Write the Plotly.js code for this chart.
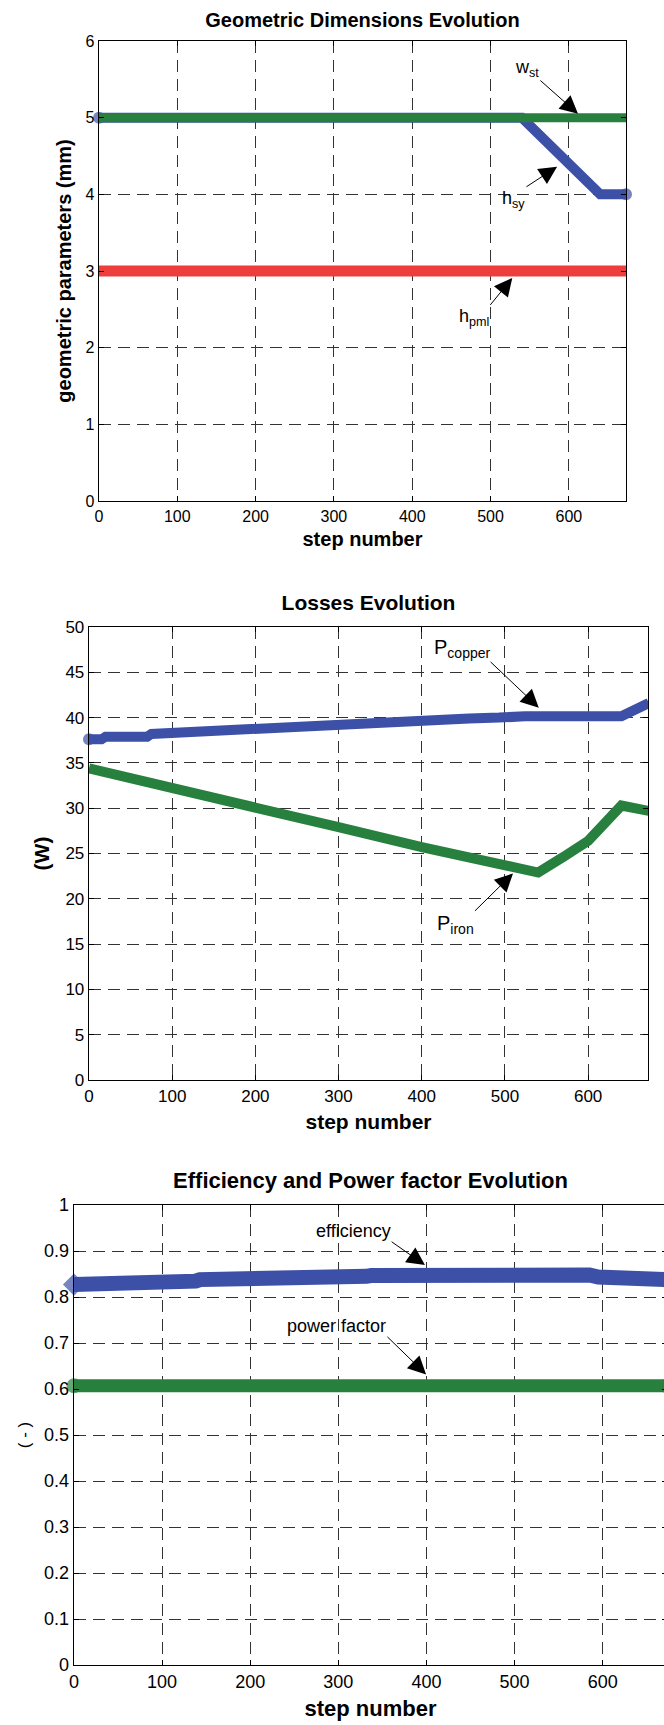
<!DOCTYPE html>
<html>
<head>
<meta charset="utf-8">
<script src="https://cdn.plot.ly/plotly-3.0.1.min.js"></script>
<style>
  html, body { margin: 0; padding: 0; background: #fff; width: 664px; height: 1725px; overflow: hidden; position: relative; }
  .chart { position: absolute; left: 0; }
</style>
</head>
<body>
<div id="c1" class="chart" style="top:0px;"></div>
<div id="c2" class="chart" style="top:560px;"></div>
<div id="c3" class="chart" style="top:1160px;"></div>
<script>
// ---------- Data ----------
// Chart 1: Geometric Dimensions Evolution (mm)
const wstSteps  = [0, 673];
const wstVals   = [5, 5];
const hsySteps  = [0, 540, 640, 673];
const hsyVals   = [5, 5, 4, 4];
const hpmlSteps = [0, 673];
const hpmlVals  = [3, 3];

// Chart 2: Losses Evolution (W)
const copperSteps = [0, 15, 20, 70, 75, 115, 155, 195, 235, 275, 315, 350, 386, 421, 457, 493, 524, 640, 673];
const copperVals  = [37.6, 37.6, 37.9, 37.9, 38.2, 38.4, 38.65, 38.85, 39.0, 39.2, 39.35, 39.5, 39.6, 39.75, 39.9, 40.0, 40.15, 40.15, 41.6];
const ironSteps   = [0, 100, 200, 300, 400, 500, 540, 570, 600, 640, 673];
const ironVals    = [34.4, 32.3, 30.1, 27.9, 25.7, 23.7, 22.9, 24.6, 26.4, 30.3, 29.7];

// Chart 3: Efficiency and Power factor Evolution (-)
const effSteps = [0, 12, 15, 75, 80, 138, 143, 200, 205, 266, 271, 332, 337, 396, 401, 467, 472, 560, 572, 585, 595, 620, 630, 673];
const effVals  = [0.827, 0.827, 0.832, 0.832, 0.8345, 0.8345, 0.8378, 0.8378, 0.8417, 0.8417, 0.845, 0.845, 0.8465, 0.8465, 0.849, 0.849, 0.8535, 0.8535, 0.848, 0.848, 0.8435, 0.8435, 0.838, 0.838];
const pfSteps  = [0, 673];
const pfVals   = [0.607, 0.607];

// ---------- Styles ----------
const FONT = 'Liberation Sans, Arial, Helvetica, sans-serif';
const BLUE = '#3C50A8', GREEN = '#28803E', RED = '#EE3D3D';

function axis(range, dtick, tickSize, titleText, titleSize, titleBold, standoff) {
  return {
    range: range, dtick: dtick, tick0: 0,
    showgrid: true, gridcolor: '#333', griddash: '12px,7px', gridwidth: 1,
    zeroline: false,
    showline: true, linecolor: '#000', linewidth: 1.3, mirror: 'ticks',
    ticks: 'inside', ticklen: 5, tickcolor: '#000',
    tickfont: {family: FONT, size: tickSize, color: '#000'},
    title: {text: titleText, standoff: standoff,
            font: {family: FONT, size: titleSize, color: '#000', weight: titleBold ? 'bold' : 'normal'}},
    automargin: false, fixedrange: true
  };
}
// thick band through the data points; a marker sits on the two end points only (it may spill past the axes)
function band(x, y, color, w, endSymbol) {
  const sizes = x.map((_, i) => (i === 0 || i === x.length - 1) ? w + 2 : 0);
  return {x: x, y: y, type: 'scatter', mode: endSymbol ? 'lines+markers' : 'lines',
          line: {color: color, width: w},
          marker: {symbol: endSymbol || 'circle', size: sizes, color: color, line: {width: 0}},
          cliponaxis: false, hoverinfo: 'skip', showlegend: false};
}
// label with an arrow: (x, y) is the arrow head in data units; (ax, ay) the pixel offset of the arrow tail,
// and the text box is anchored at the tail.
function pointer(x, y, ax, ay, text, size, xa, ya) {
  return {x: x, y: y, xref: 'x', yref: 'y', ax: ax, ay: ay, text: text, showarrow: true,
          arrowhead: 2, arrowsize: 3.6, arrowwidth: 1, arrowcolor: '#000', standoff: 0, startstandoff: 0,
          xanchor: xa, yanchor: ya, borderpad: 0,
          font: {family: FONT, size: size, color: '#000'}};
}
function title(text, size, yFrac) {
  return {text: text, font: {family: FONT, size: size, color: '#000', weight: 'bold'},
          xref: 'paper', x: 0.5, xanchor: 'center', yref: 'container', y: yFrac, yanchor: 'middle'};
}
const cfg = {staticPlot: true, displayModeBar: false};

// ---------- Chart 1 ----------
Plotly.newPlot('c1', [
  band(hpmlSteps, hpmlVals, RED, 11, null),
  band(hsySteps, hsyVals, BLUE, 10, 'circle'),
  band(wstSteps, wstVals, GREEN, 9, null)
], {
  width: 664, height: 560,
  margin: {l: 99, r: 38, t: 41, b: 59},
  paper_bgcolor: '#fff', plot_bgcolor: '#fff',
  title: title('Geometric Dimensions Evolution', 20, 1 - 20/560),
  xaxis: axis([0, 673], 100, 16, 'step number', 20, true, 8),
  yaxis: axis([0, 6], 1, 16, 'geometric parameters (mm)', 20, true, 8),
  annotations: [
    pointer(611.7, 5.05, -37.6, -33.3, 'w<sub>st</sub>', 18, 'right', 'bottom'),
    pointer(585, 4.36, -30.6, 20, 'h<sub>sy</sub>', 18, 'right', 'top'),
    pointer(527.8, 2.91, -22, 27, 'h<sub>pml</sub>', 18, 'right', 'top')
  ]
}, cfg);

// ---------- Chart 2 ----------
Plotly.newPlot('c2', [
  band(ironSteps, ironVals, GREEN, 10, null),
  band(copperSteps, copperVals, BLUE, 10, 'circle')
], {
  width: 664, height: 590,
  margin: {l: 89, r: 16, t: 67, b: 70},
  paper_bgcolor: '#fff', plot_bgcolor: '#fff',
  title: title('Losses Evolution', 21, 1 - 43/590),
  xaxis: axis([0, 672], 100, 17, 'step number', 21, true, 9),
  yaxis: axis([0, 50], 5, 17, '(W)', 21, true, 10),
  annotations: [
    pointer(540.7, 41.1, -48.2, -45.7, 'P<sub>copper</sub>', 20, 'right', 'bottom'),
    pointer(509.7, 22.8, -38, 37.4, 'P<sub>iron</sub>', 20, 'right', 'top')
  ]
}, cfg);

// ---------- Chart 3 ----------
Plotly.newPlot('c3', [
  band(effSteps, effVals, BLUE, 15, 'diamond'),
  band(pfSteps, pfVals, GREEN, 13, 'circle')
], {
  width: 700, height: 565,
  margin: {l: 74, r: 33, t: 45, b: 60},
  paper_bgcolor: '#fff', plot_bgcolor: '#fff',
  title: title('Efficiency and Power factor Evolution', 22, 1 - 20/565),
  xaxis: axis([0, 673], 100, 18, 'step number', 22, true, 9),
  yaxis: axis([0, 1], 0.1, 18, '( - )', 17, false, 9),
  annotations: [
    pointer(398.3, 0.8694, -33.3, -23.3, 'efficiency', 18, 'right', 'bottom'),
    pointer(399.6, 0.6316, -38.7, -37.6, 'power factor', 18, 'right', 'bottom')
  ]
}, cfg);
</script>
</body>
</html>
